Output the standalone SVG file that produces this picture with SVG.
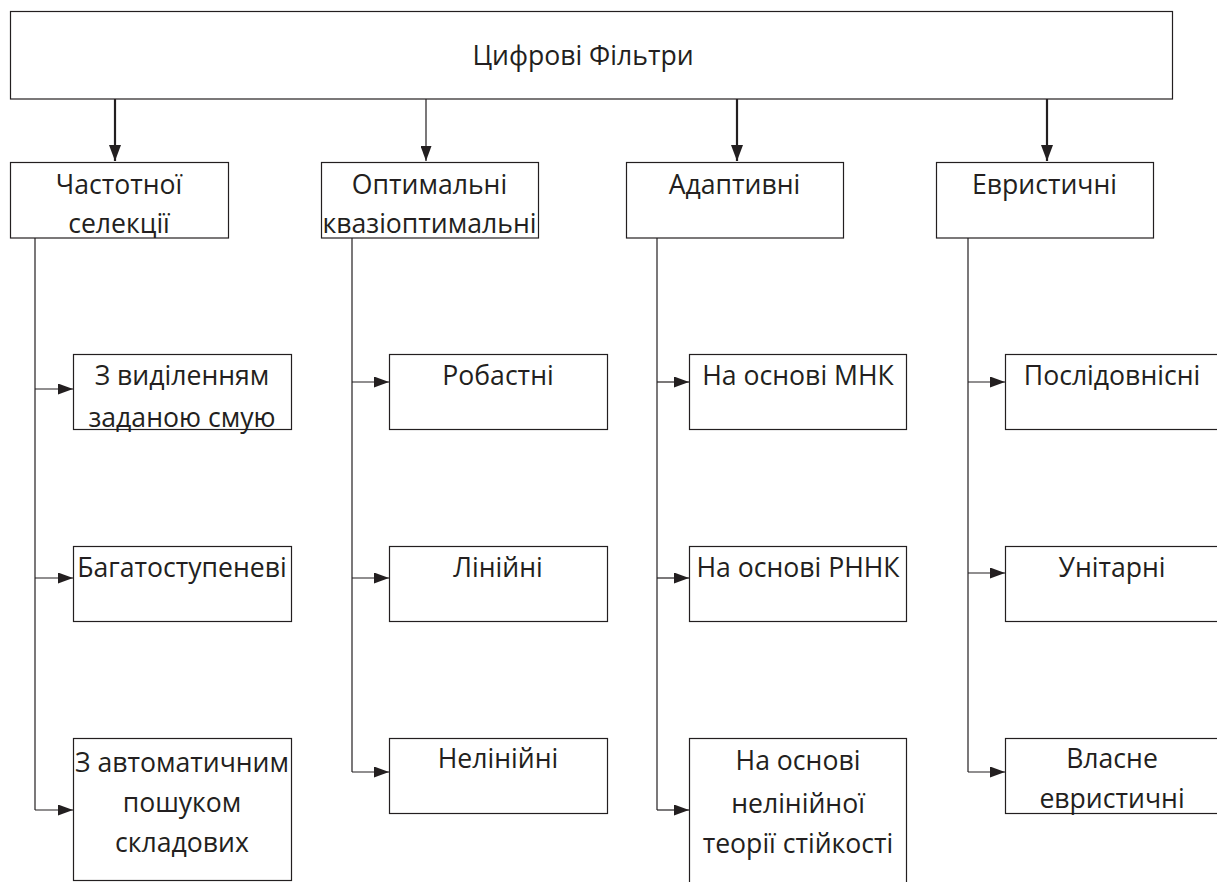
<svg xmlns="http://www.w3.org/2000/svg" width="1217" height="882" viewBox="0 0 1217 882">
<defs>
<style>
.box{fill:#fff;stroke:#231f20;stroke-width:1.2}
.t{font-family:"Open Sans","Noto Sans","DejaVu Sans",sans-serif;font-size:26.6px;fill:#231f20;text-anchor:middle}
.ln{fill:none;stroke:#231f20;stroke-width:1.2}
.thick{fill:none;stroke:#231f20;stroke-width:2.2}
.ah{fill:#231f20}
</style>
<marker id="arr" viewBox="0 0 15 11" refX="15" refY="5.5" markerWidth="15" markerHeight="11" markerUnits="userSpaceOnUse" orient="auto">
<path d="M0,0 L15,5.5 L0,11 Z" class="ah"/>
</marker>
<marker id="arrv" viewBox="0 0 16 12" refX="16" refY="6" markerWidth="16" markerHeight="12" markerUnits="userSpaceOnUse" orient="auto">
<path d="M0,0 L16,6 L0,12 Z" class="ah"/>
</marker>
</defs>
<rect width="1217" height="882" fill="#fff"/>

<g id="connectors">
<line class="thick" x1="115" y1="99" x2="115" y2="161" marker-end="url(#arrv)"/>
<line class="ln" x1="426" y1="99" x2="426" y2="161" marker-end="url(#arr)"/>
<line class="thick" x1="737" y1="99" x2="737" y2="161" marker-end="url(#arrv)"/>
<line class="thick" x1="1047" y1="99" x2="1047" y2="161" marker-end="url(#arrv)"/>

<path class="ln" d="M35,238 V810"/>
<line class="ln" x1="35" y1="389" x2="73" y2="389" marker-end="url(#arr)"/>
<line class="ln" x1="35" y1="578" x2="73" y2="578" marker-end="url(#arr)"/>
<line class="ln" x1="35" y1="810" x2="73" y2="810" marker-end="url(#arr)"/>

<path class="ln" d="M352,238 V772"/>
<line class="ln" x1="352" y1="382" x2="389" y2="382" marker-end="url(#arr)"/>
<line class="ln" x1="352" y1="578" x2="389" y2="578" marker-end="url(#arr)"/>
<line class="ln" x1="352" y1="772" x2="389" y2="772" marker-end="url(#arr)"/>

<path class="ln" d="M657,238 V810"/>
<line class="ln" x1="657" y1="382" x2="689" y2="382" marker-end="url(#arr)"/>
<line class="ln" x1="657" y1="578" x2="689" y2="578" marker-end="url(#arr)"/>
<line class="ln" x1="657" y1="810" x2="689" y2="810" marker-end="url(#arr)"/>

<path class="ln" d="M968,238 V772"/>
<line class="ln" x1="968" y1="382" x2="1005" y2="382" marker-end="url(#arr)"/>
<line class="ln" x1="968" y1="573" x2="1005" y2="573" marker-end="url(#arr)"/>
<line class="ln" x1="968" y1="772" x2="1005" y2="772" marker-end="url(#arr)"/>
</g>

<g id="root">
<rect class="box" x="10.5" y="11.5" width="1162" height="87.5"/>
<text class="t" x="583" y="65">Цифрові Фільтри</text>
</g>

<g id="freq">
<rect class="box" x="10.5" y="162.5" width="218" height="75.5"/>
<text class="t" x="119" y="194">Частотної</text>
<text class="t" x="119" y="233">селекції</text>
</g>
<g id="optimal">
<rect class="box" x="321.5" y="162.5" width="217" height="75.5"/>
<text class="t" x="429.5" y="194">Оптимальні</text>
<text class="t" x="429.5" y="233">квазіоптимальні</text>
</g>
<g id="adaptive">
<rect class="box" x="626.5" y="162.5" width="217" height="75.5"/>
<text class="t" x="734.5" y="194">Адаптивні</text>
</g>
<g id="heuristic">
<rect class="box" x="936.5" y="162.5" width="217" height="75.5"/>
<text class="t" x="1044.5" y="194">Евристичні</text>
</g>

<g id="f1">
<rect class="box" x="73.5" y="354.5" width="218" height="75"/>
<text class="t" x="182" y="385">З виділенням</text>
<text class="t" x="182" y="427">заданою смую</text>
</g>
<g id="f2">
<rect class="box" x="73.5" y="546.5" width="218" height="75"/>
<text class="t" x="182" y="577">Багатоступеневі</text>
</g>
<g id="f3">
<rect class="box" x="73.5" y="738.5" width="218" height="142"/>
<text class="t" x="182" y="772">З автоматичним</text>
<text class="t" x="182" y="812">пошуком</text>
<text class="t" x="182" y="852">складових</text>
</g>

<g id="o1">
<rect class="box" x="389.5" y="354.5" width="218" height="75"/>
<text class="t" x="498" y="385">Робастні</text>
</g>
<g id="o2">
<rect class="box" x="389.5" y="546.5" width="218" height="75"/>
<text class="t" x="498" y="577">Лінійні</text>
</g>
<g id="o3">
<rect class="box" x="389.5" y="738.5" width="218" height="75"/>
<text class="t" x="498" y="768">Нелінійні</text>
</g>

<g id="a1">
<rect class="box" x="689.5" y="354.5" width="217" height="75"/>
<text class="t" x="798" y="385">На основі МНК</text>
</g>
<g id="a2">
<rect class="box" x="689.5" y="546.5" width="217" height="75"/>
<text class="t" x="798" y="577">На основі РННК</text>
</g>
<g id="a3">
<rect class="box" x="689.5" y="738.5" width="217" height="160"/>
<text class="t" x="798" y="770">На основі</text>
<text class="t" x="798" y="813">нелінійної</text>
<text class="t" x="798" y="853">теорії стійкості</text>
</g>

<g id="h1">
<rect class="box" x="1005.5" y="354.5" width="217" height="75"/>
<text class="t" x="1112" y="385">Послідовнісні</text>
</g>
<g id="h2">
<rect class="box" x="1005.5" y="546.5" width="217" height="75"/>
<text class="t" x="1112" y="577">Унітарні</text>
</g>
<g id="h3">
<rect class="box" x="1005.5" y="738.5" width="217" height="75"/>
<text class="t" x="1112" y="768">Власне</text>
<text class="t" x="1112" y="808">евристичні</text>
</g>
</svg>
